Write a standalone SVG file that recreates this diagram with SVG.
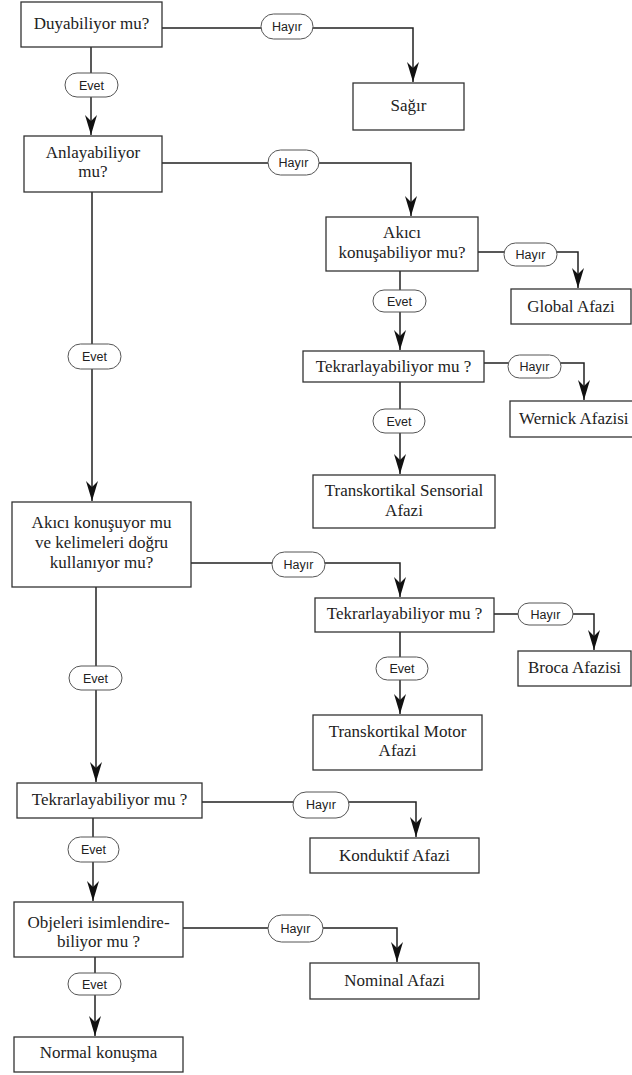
<svg xmlns="http://www.w3.org/2000/svg" width="632" height="1075" viewBox="0 0 632 1075">
<style>
.box{fill:#fff;stroke:#333;stroke-width:1.3}
.t{font-size:17px;fill:#222;text-anchor:middle}
.pill{fill:#fff;stroke:#555;stroke-width:1}
.pt{font-size:12.5px;fill:#222;text-anchor:middle}
.ln{fill:none;stroke:#222;stroke-width:1.5}
</style>
<defs>
<marker id="ah" viewBox="0 0 20 12" refX="20" refY="6" markerWidth="20" markerHeight="12" markerUnits="userSpaceOnUse" orient="auto">
<path d="M0,0 L20,6 L0,12 L6,6 Z" fill="#111"/>
</marker>
</defs>
<rect width="632" height="1075" fill="#fff"/>
<g id="connectors">
<path class="ln" d="M162,28 H413 V82" marker-end="url(#ah)"/>
<path class="ln" d="M91,47 V135" marker-end="url(#ah)"/>
<path class="ln" d="M162,163 H411 V216" marker-end="url(#ah)"/>
<path class="ln" d="M92,192 V501" marker-end="url(#ah)"/>
<path class="ln" d="M478,252 H578 V288" marker-end="url(#ah)"/>
<path class="ln" d="M400,271 V350" marker-end="url(#ah)"/>
<path class="ln" d="M484,363 H584 V400" marker-end="url(#ah)"/>
<path class="ln" d="M400,382 V474" marker-end="url(#ah)"/>
<path class="ln" d="M191,563 H400 V597" marker-end="url(#ah)"/>
<path class="ln" d="M494,614 H594 V650" marker-end="url(#ah)"/>
<path class="ln" d="M400,632 V714" marker-end="url(#ah)"/>
<path class="ln" d="M96,587 V782" marker-end="url(#ah)"/>
<path class="ln" d="M202,802 H416 V837" marker-end="url(#ah)"/>
<path class="ln" d="M93,818 V901" marker-end="url(#ah)"/>
<path class="ln" d="M183,928 H397 V962" marker-end="url(#ah)"/>
<path class="ln" d="M95,957 V1036" marker-end="url(#ah)"/>
<g id="labels" font-family="Liberation Sans, Arial, sans-serif">
<rect class="pill" x="261" y="14" width="52" height="25" rx="12.5"/><text class="pt" x="287" y="31">Hayır</text>
<rect class="pill" x="65" y="73" width="53" height="24" rx="12"/><text class="pt" x="91.5" y="89.5">Evet</text>
<rect class="pill" x="268" y="150" width="51" height="25" rx="12.5"/><text class="pt" x="293.5" y="167">Hayır</text>
<rect class="pill" x="68" y="344" width="53" height="25" rx="12.5"/><text class="pt" x="94.5" y="361">Evet</text>
<rect class="pill" x="504" y="243" width="53" height="23" rx="11.5"/><text class="pt" x="530.5" y="259">Hayır</text>
<rect class="pill" x="373" y="290" width="53" height="22" rx="11"/><text class="pt" x="399.5" y="305.5">Evet</text>
<rect class="pill" x="508" y="355" width="53" height="23" rx="11.5"/><text class="pt" x="534.5" y="371">Hayır</text>
<rect class="pill" x="373" y="409" width="52" height="24" rx="12"/><text class="pt" x="399" y="425.5">Evet</text>
<rect class="pill" x="272" y="552" width="53" height="25" rx="12.5"/><text class="pt" x="298.5" y="569">Hayır</text>
<rect class="pill" x="518" y="603" width="55" height="22" rx="11"/><text class="pt" x="545.5" y="618.5">Hayır</text>
<rect class="pill" x="376" y="657" width="52" height="23" rx="11.5"/><text class="pt" x="402" y="673">Evet</text>
<rect class="pill" x="69" y="666" width="53" height="24" rx="12"/><text class="pt" x="95.5" y="682.5">Evet</text>
<rect class="pill" x="293" y="792" width="56" height="26" rx="13"/><text class="pt" x="321" y="809">Hayır</text>
<rect class="pill" x="68" y="837" width="51" height="25" rx="12.5"/><text class="pt" x="93.5" y="854">Evet</text>
<rect class="pill" x="268" y="915" width="55" height="27" rx="13.5"/><text class="pt" x="295.5" y="932.5">Hayır</text>
<rect class="pill" x="68" y="973" width="53" height="22" rx="11"/><text class="pt" x="94.5" y="988.5">Evet</text>
</g>
</g>
<g id="nodes" font-family="Liberation Serif, DejaVu Serif, serif">
<g id="n1"><rect class="box" x="21" y="2" width="141" height="45"/><text class="t" x="91.5" y="29">Duyabiliyor mu?</text></g>
<g id="n2"><rect class="box" x="353" y="83" width="111" height="47"/><text class="t" x="408.5" y="111">Sağır</text></g>
<g id="n3"><rect class="box" x="24" y="136" width="138" height="56"/><text class="t" x="93" y="158">Anlayabiliyor</text><text class="t" x="93" y="177">mu?</text></g>
<g id="n4"><rect class="box" x="326" y="217" width="152" height="54"/><text class="t" x="402" y="238">Akıcı</text><text class="t" x="402" y="258">konuşabiliyor mu?</text></g>
<g id="n5"><rect class="box" x="511" y="289" width="120" height="35"/><text class="t" x="571" y="312">Global Afazi</text></g>
<g id="n6"><rect class="box" x="303" y="351" width="181" height="31"/><text class="t" x="393.5" y="372">Tekrarlayabiliyor mu ?</text></g>
<g id="n7"><rect class="box" x="510" y="401" width="130" height="36"/><text class="t" x="519" y="424" style="text-anchor:start">Wernick Afazisi</text></g>
<g id="n8"><rect class="box" x="313" y="475" width="182" height="53"/><text class="t" x="404" y="496">Transkortikal Sensorial</text><text class="t" x="404" y="516">Afazi</text></g>
<g id="n9"><rect class="box" x="12" y="502" width="179" height="85"/><text class="t" x="101.5" y="528">Akıcı konuşuyor mu</text><text class="t" x="101.5" y="548">ve kelimeleri doğru</text><text class="t" x="101.5" y="568">kullanıyor mu?</text></g>
<g id="n10"><rect class="box" x="315" y="598" width="179" height="34"/><text class="t" x="404.5" y="619">Tekrarlayabiliyor mu ?</text></g>
<g id="n11"><rect class="box" x="518" y="651" width="113" height="35"/><text class="t" x="574.5" y="673">Broca Afazisi</text></g>
<g id="n12"><rect class="box" x="313" y="715" width="169" height="55"/><text class="t" x="397.5" y="737">Transkortikal Motor</text><text class="t" x="397.5" y="756">Afazi</text></g>
<g id="n13"><rect class="box" x="17" y="783" width="185" height="35"/><text class="t" x="109.5" y="805">Tekrarlayabiliyor mu ?</text></g>
<g id="n14"><rect class="box" x="310" y="838" width="169" height="35"/><text class="t" x="394.5" y="861">Konduktif Afazi</text></g>
<g id="n15"><rect class="box" x="14" y="902" width="169" height="55"/><text class="t" x="98.5" y="928">Objeleri isimlendire-</text><text class="t" x="98.5" y="947">biliyor mu ?</text></g>
<g id="n16"><rect class="box" x="310" y="963" width="169" height="36"/><text class="t" x="394.5" y="986">Nominal Afazi</text></g>
<g id="n17"><rect class="box" x="14" y="1037" width="169" height="35"/><text class="t" x="98.5" y="1058">Normal konuşma</text></g>
</g>
</svg>
